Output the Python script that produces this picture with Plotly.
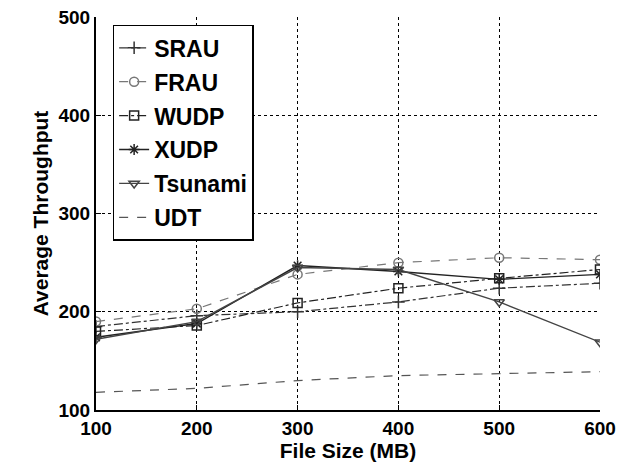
import plotly.graph_objects as go

file_size = [100, 200, 300, 400, 500, 600]
srau = [185, 196, 200, 210, 224, 229]
frau = [190, 203, 238, 250, 255, 253]
wudp = [180, 186, 209, 224, 234, 243]
xudp = [174, 188, 247, 241, 233, 238]
tsunami = [172, 190, 245, 243, 210, 169]
udt = [118, 122, 130, 135, 137, 139]

x_ticks = [100, 200, 300, 400, 500, 600]
y_ticks = [100, 200, 300, 400, 500]

series = [
    ("SRAU", srau, "dashdot", "#333333", "cross-thin-open", 1.2),
    ("FRAU", frau, "dash", "#777777", "circle-open", 1.2),
    ("WUDP", wudp, "dashdot", "#222222", "square-open", 1.2),
    ("XUDP", xudp, "solid", "#222222", "asterisk-open", 1.4),
    ("Tsunami", tsunami, "solid", "#444444", "triangle-down-open", 1.4),
    ("UDT", udt, "dash", "#555555", None, 1.2),
]

fig = go.Figure()
for i, (name, vals, dash, color, sym, w) in enumerate(series):
    if sym:
        fig.add_trace(go.Scatter(
            x=file_size, y=vals, name=name, legendgroup=f"g{i}",
            mode="lines+markers",
            line=dict(dash=dash, color=color, width=w),
            marker=dict(symbol=sym, size=9, color=color, line=dict(width=1.5, color=color)),
        ))
    else:
        fig.add_trace(go.Scatter(
            x=file_size, y=vals, name=name, legendgroup=f"g{i}",
            mode="lines",
            line=dict(dash=dash, color=color, width=w),
        ))

fam = "Liberation Sans, Arial, sans-serif"
tick_font = dict(family=fam, size=19, color="black")
title_font = dict(family=fam, size=21, color="black")
fig.update_layout(
    width=617, height=467,
    margin=dict(l=96, r=17, t=17, b=57),
    paper_bgcolor="white", plot_bgcolor="white",
    font=dict(family=fam, color="black"),
    legend=dict(
        x=0.033, y=0.98, xanchor="left", yanchor="top",
        bordercolor="black", borderwidth=1.5, bgcolor="white",
        font=dict(size=23, family=fam, color="black", weight="bold"),
        tracegroupgap=1,
    ),
    xaxis=dict(
        range=[100, 600], tickvals=x_ticks, ticktext=[f"<b>{v}</b>" for v in x_ticks],
        showgrid=True, gridcolor="black", griddash="dot", gridwidth=1,
        showline=True, linecolor="black", linewidth=2,
        ticks="inside", ticklen=5, tickcolor="black",
        tickfont=tick_font, zeroline=False, ticklabeloverflow="allow", automargin=False,
        title=dict(text="<b>File Size (MB)</b>", font=title_font, standoff=0),
    ),
    yaxis=dict(
        range=[100, 500], tickvals=y_ticks, ticktext=[f"<b>{v}</b>" for v in y_ticks],
        showgrid=True, gridcolor="black", griddash="dot", gridwidth=1,
        showline=True, linecolor="black", linewidth=2,
        ticks="inside", ticklen=5, tickcolor="black",
        tickfont=tick_font, zeroline=False, ticklabeloverflow="allow", automargin=False,
        title=dict(text="<b>Average Throughput</b>", font=title_font, standoff=4),
    ),
)

fig.write_html("out.html")
